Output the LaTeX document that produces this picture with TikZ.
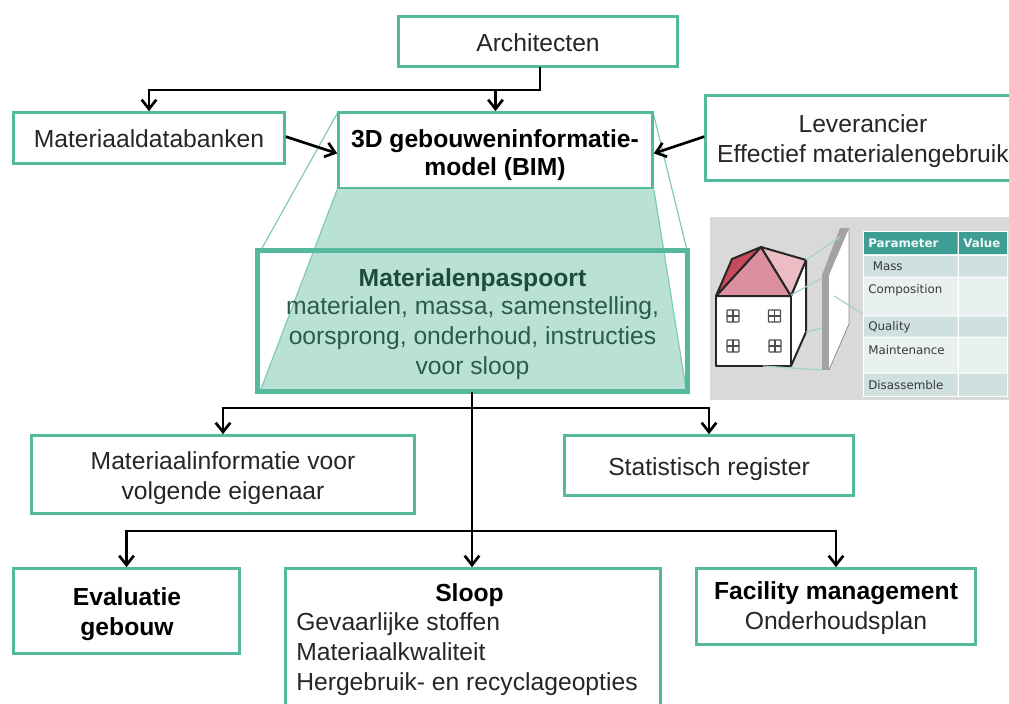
\documentclass[tikz,border=0pt]{standalone}
\usepackage{fontspec}
\setmainfont{Liberation Sans}
\newfontfamily\tablefont{DejaVu Sans}
\usetikzlibrary{arrows.meta}
\definecolor{gbd}{HTML}{55B99D}
\definecolor{gfl}{HTML}{B9E2D5}
\definecolor{gtx}{HTML}{2C5A4E}
\definecolor{gtxb}{HTML}{1F4A3E}
\definecolor{thead}{HTML}{3F9E94}
\definecolor{trowa}{HTML}{CFE0DF}
\definecolor{trowb}{HTML}{E8F1F0}
\definecolor{tlink}{HTML}{A3D2CE}
\tikzset{
  x=0.75pt,y=-0.75pt,
  lbl/.style={font=\fontsize{18.5}{22.5}\selectfont,text=black!85,align=center,inner sep=0pt},
  box/.style={draw=gbd,line width=2pt,fill=white,inner sep=0pt,align=center},
  arr/.style={draw=black,line width=2pt,-{Straight Barb[length=7pt,width=11pt]}},
  lin/.style={draw=black,line width=2pt,line cap=rect},
  thin/.style={draw=gbd!75,line width=0.9pt},
  hs/.style={draw=black!85,line width=1.5pt,line join=round},
  tlbl/.style={font=\tablefont\fontsize{8.9}{10}\selectfont,text=black!78,anchor=west,inner sep=0pt},
  thd/.style={font=\tablefont\bfseries\fontsize{8.9}{10}\selectfont,text=white!92!thead,anchor=west,inner sep=0pt},
  link/.style={draw=tlink,line width=0.9pt}
}
\newcommand{\bx}[6]{\node[box,minimum width=#3*0.75pt-0.75pt,minimum height=#4*0.75pt-0.75pt,#6] (#5) at ({#1+#3/2},{#2+#4/2}) {};}
\newcommand{\winglyph}[2]{\draw[draw=black!70,line width=0.8pt,fill=white,rounded corners=0.5pt] (#1-6,#2-6) rectangle (#1+6,#2+6);\draw[draw=black!70,line width=0.8pt] (#1,#2-6)--(#1,#2+6) (#1-6,#2)--(#1+6,#2);}
\begin{document}
\begin{tikzpicture}
\useasboundingbox (0,0) rectangle (1009,703);
% thin perspective lines
\draw[thin] (338,112) -- (261,250);
\draw[thin] (653,112) -- (687,250);
% boxes
\bx{398}{16}{280}{51}{arch}{}
\bx{13}{112}{272}{52}{mat}{}
\bx{338}{112}{315}{77}{bim}{}
\bx{705}{95}{330}{86}{lev}{}
\node[draw=gbd,line width=3.75pt,outer sep=0pt,fill=white,minimum width=430*0.75pt,minimum height=141*0.75pt,inner sep=0pt] (pas) at (472.5,321) {};
\fill[gfl] (337,189) -- (654,189) -- (686,389) -- (261,389) -- cycle;
\draw[thin] (337,190) -- (261,389);
\draw[thin] (654,190) -- (686,389);
\draw[gbd,line width=3.75pt] (pas.north west) rectangle (pas.south east);
\bx{31}{435}{384}{79}{info}{}
\bx{564}{435}{290}{61}{stat}{}
\bx{13}{568}{227}{86}{eval}{}
\bx{285}{568}{376}{160}{sloop}{}
\bx{696}{568}{280}{77}{fac}{}
% texts
\node[lbl] (archt) at (538,42.5) {Architecten};
\node[lbl] (matt) at (149,138.5) {Materiaaldatabanken};
\node[lbl] (bimt) at (495,155) {\bfseries\color{black} 3D gebouweninformatie-\\[-1.5pt]\bfseries\color{black} model (BIM)};
\node[lbl] (levt) at (863,141.5) {Leverancier\\Effectief materialengebruik};
\node[lbl,text=gtx] (past) at (472.5,324) {{\bfseries\color{gtxb}Materialenpaspoort}\\[-1.5pt]materialen, massa, samenstelling,\\oorsprong, onderhoud, instructies\\voor sloop};
\node[lbl] (infot) at (223,478) {Materiaalinformatie voor\\volgende eigenaar};
\node[lbl] (statt) at (709,469.5) {Statistisch register};
\node[lbl] (evalt) at (127,614) {\bfseries\color{black} Evaluatie\\\bfseries\color{black} gebouw};
\node[lbl] (sloopt) at (469.5,595.5) {\bfseries\color{black} Sloop};
\node[lbl,align=left,anchor=north west] (sloopb) at (296,612) {Gevaarlijke stoffen\\Materiaalkwaliteit\\Hergebruik- en recyclageopties};
\node[lbl] (fact) at (836,608.5) {{\bfseries\color{black} Facility management}\\Onderhoudsplan};
% connectors
\coordinate (a1) at ([xshift=1.5pt]arch.south |- 0,90);
\coordinate (as) at ([xshift=1.5pt]arch.south);
\coordinate (p1) at (472,408);
\coordinate (p2) at (472,531);
\coordinate (ps) at (472,392);
\draw[lin] (as) -- (a1);
\draw[arr] (a1) -| (bim.north);
\draw[arr] (a1) -| (mat.north);
\draw[arr] ([yshift=1pt]mat.east) -- ([yshift=-2.2pt]bim.west);
\draw[arr] ([yshift=1pt]lev.west) -- ([yshift=-2.2pt]bim.east);
\draw[arr] (ps) -- (sloop.north -| ps);
\draw[arr] (p1) -| (info.north);
\draw[arr] (p1) -| (stat.north);
\draw[arr] (p2) -| (eval.north);
\draw[arr] (p2) -| (fac.north);
% inset picture
\fill[black!15] (710,217) rectangle (1009,400);
\fill[white] (863,231) rectangle (1008,397);
\fill[thead] (864,232) rectangle (957.5,254) (959,232) rectangle (1007,254);
\foreach \ya/\yb/\c in {256/276.5/trowa,277.5/315.5/trowb,316.5/336.5/trowa,337.5/372.5/trowb,373.5/396/trowa}{
  \fill[\c] (864,\ya) rectangle (957.5,\yb) (959,\ya) rectangle (1007,\yb);
}
\node[thd] (tp) at (868,243) {Parameter};
\node[thd] (tv) at (963,243) {Value};
\node[tlbl] (t1) at (872.5,266.5) {Mass};
\node[tlbl] (t2) at (868,290) {Composition};
\node[tlbl] (t3) at (868,327) {Quality};
\node[tlbl] (t4) at (868,350.5) {Maintenance};
\node[tlbl] (t5) at (868,385) {Disassemble};
% house
\fill[white] (791,296) -- (806,260) -- (806,332) -- (791,366) -- cycle;
\fill[white] (829,275) -- (849,228) -- (849,324) -- (829,370) -- cycle;
\draw[hs,fill=white] (716,296) rectangle (791,366);
\draw[hs] (791,296) -- (806,260) -- (806,332) -- (791,366);
\draw[hs,fill={rgb,255:red,220;green,143;blue,159}] (716,296) -- (761,247) -- (791,296) -- cycle;
\draw[hs,fill={rgb,255:red,201;green,73;blue,95}] (716,296) -- (732,259) -- (761,247) -- cycle;
\draw[hs,fill={rgb,255:red,236;green,188;blue,197}] (761,247) -- (806,260) -- (791,296) -- cycle;
\winglyph{733}{316}\winglyph{774.5}{316}\winglyph{733}{346}\winglyph{775}{346}
\fill[black!36] (822,275) -- (829,275) -- (829,370) -- (822,370) -- cycle;
\fill[black!36] (822,275) -- (829,275) -- (849,228) -- (840,228) -- cycle;
\draw[draw=black!45,line width=0.6pt] (829,370) -- (849,324) -- (849,228);
\draw[link] (806,260) -- (840,237);
\draw[link] (791,295) -- (822,278);
\draw[link] (806,332) -- (822,328);
\draw[link] (763,366) -- (822,370);
\draw[link] (834,296) -- (863,314);
\end{tikzpicture}
\end{document}
